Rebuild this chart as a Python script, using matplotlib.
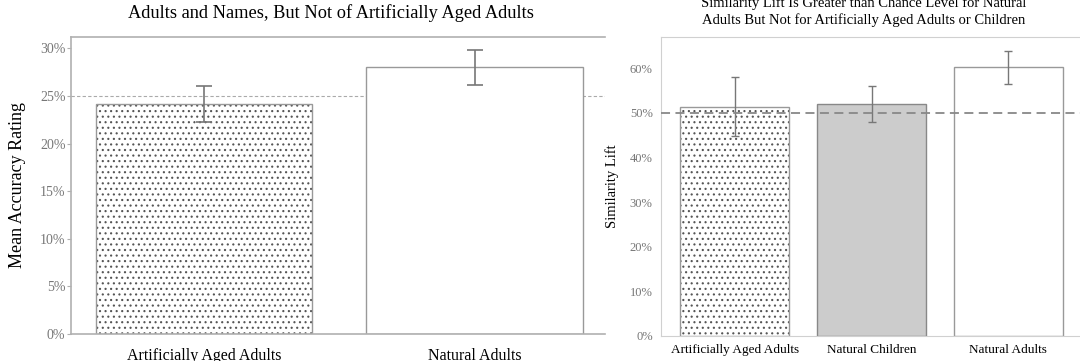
import matplotlib
matplotlib.use("Agg")
import matplotlib.pyplot as plt
from matplotlib.ticker import FuncFormatter

plt.rcParams["font.family"] = ["Liberation Serif", "DejaVu Serif"]
plt.rcParams["hatch.linewidth"] = 0.8

# left panel: mean accuracy rating
acc_groups = ["Artificially Aged Adults", "Natural Adults"]
acc_means = [24.2, 28.0]
acc_lo = [22.3, 26.2]
acc_hi = [26.1, 29.8]
acc_chance = 25

# right panel: similarity lift
lift_groups = ["Artificially Aged Adults", "Natural Children", "Natural Adults"]
lift_means = [51.3, 52.0, 60.3]
lift_lo = [44.8, 48.0, 56.5]
lift_hi = [58.1, 56.0, 63.9]
lift_chance = 50

pct = FuncFormatter(lambda v, _: f"{v:.0f}%")
spine_col = "#b0b0b0"
tick_col = "#777777"
dot_col = "#555555"


def bars(ax, x, vals, fills, edges, hatches):
    # hatch takes the edge colour, so draw dots and outline separately
    ax.bar(x, vals, width=0.8, color=fills, edgecolor=dot_col, linewidth=0,
           hatch=hatches, zorder=2)
    ax.bar(x, vals, width=0.8, fill=False, edgecolor=edges, linewidth=1.0, zorder=2)


fig = plt.figure(figsize=(10.8, 3.61), dpi=100)
ax1 = fig.add_axes([71 / 1080, 27 / 361, 534 / 1080, 297 / 361])
ax2 = fig.add_axes([661 / 1080, 25 / 361, 421 / 1080, 299 / 361])

# --- left
x1 = range(len(acc_groups))
err1 = [[m - l for m, l in zip(acc_means, acc_lo)], [h - m for m, h in zip(acc_means, acc_hi)]]
bars(ax1, x1, acc_means, ["white", "white"], ["#999999", "#999999"], ["...", ""])
ax1.errorbar(x1, acc_means, yerr=err1, fmt="none", ecolor="#777777", elinewidth=1.2,
             capsize=6, capthick=1.2, zorder=3)
ax1.axhline(acc_chance, color="#aaaaaa", lw=0.8, ls=(0, (3, 2)), zorder=1)
ax1.set_xlim(-0.494, 1.483)
ax1.set_ylim(0, 31.2)
ax1.set_yticks(range(0, 31, 5))
ax1.yaxis.set_major_formatter(pct)
ax1.set_xticks(list(x1))
ax1.set_xticklabels(acc_groups, fontsize=11.5)
ax1.tick_params(axis="x", length=0, pad=10)
ax1.tick_params(axis="y", length=3, color=spine_col, labelcolor=tick_col, labelsize=10, pad=1)
ax1.set_ylabel("Mean Accuracy Rating", fontsize=13, labelpad=10)
ax1.spines["right"].set_visible(False)
for s in ("left", "top", "bottom"):
    ax1.spines[s].set_color(spine_col)
    ax1.spines[s].set_linewidth(1.2)
fig.text(0.306, 0.965, "Adults and Names, But Not of Artificially Aged Adults",
         ha="center", va="center", fontsize=13.2)

# --- right
x2 = range(len(lift_groups))
err2 = [[m - l for m, l in zip(lift_means, lift_lo)], [h - m for m, h in zip(lift_means, lift_hi)]]
bars(ax2, x2, lift_means, ["white", "#cccccc", "white"],
     ["#999999", "#888888", "#999999"], ["...", "", ""])
ax2.errorbar(x2, lift_means, yerr=err2, fmt="none", ecolor="#777777", elinewidth=1.0,
             capsize=3, capthick=1.0, zorder=3)
ax2.axhline(lift_chance, color="#888888", lw=1.3, ls=(0, (5, 3)), zorder=4)
ax2.set_xlim(-0.54, 2.54)
ax2.set_ylim(0, 67)
ax2.set_yticks(range(0, 61, 10))
ax2.yaxis.set_major_formatter(pct)
ax2.set_xticks(list(x2))
ax2.set_xticklabels(lift_groups, fontsize=9.5)
ax2.tick_params(axis="x", length=0, pad=6)
ax2.tick_params(axis="y", length=0, labelcolor=tick_col, labelsize=9, pad=6)
ax2.set_ylabel("Similarity Lift", fontsize=10.5, labelpad=8)
for s in ("left", "top", "bottom", "right"):
    ax2.spines[s].set_color("#d0d0d0")
fig.text(0.80, 0.991, "Similarity Lift Is Greater than Chance Level for Natural",
         ha="center", va="center", fontsize=10.5)
fig.text(0.80, 0.945, "Adults But Not for Artificially Aged Adults or Children",
         ha="center", va="center", fontsize=10.5)

fig.savefig("out.png", dpi=100)
